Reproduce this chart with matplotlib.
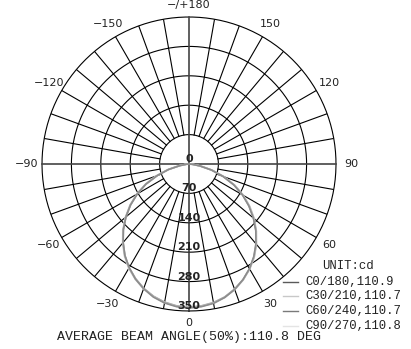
import numpy as np
import matplotlib
matplotlib.use("Agg")
import matplotlib.pyplot as plt
from matplotlib.lines import Line2D

# gamma angles (deg) and intensities (cd) for each C-plane half
gamma = [0, 5, 10, 15, 20, 25, 30, 35, 40, 45, 50, 55, 60, 65, 70, 75, 80, 85, 90]
c0 = [343, 341, 337, 329, 318, 304, 288, 269, 248, 225, 200, 174, 147, 118, 86, 55, 26, 8, 0]
c180 = [343, 341, 336, 328, 316, 302, 285, 266, 244, 221, 196, 170, 142, 113, 80, 50, 22, 6, 0]
c30 = [342, 340, 336, 329, 318, 305, 289, 271, 250, 227, 203, 177, 150, 121, 89, 58, 28, 9, 0]
c210 = [342, 340, 335, 327, 316, 302, 286, 267, 245, 222, 197, 171, 143, 114, 82, 52, 23, 7, 0]
c60 = [341, 339, 335, 328, 317, 304, 288, 270, 249, 226, 201, 175, 148, 119, 87, 56, 27, 8, 0]
c240 = [341, 339, 334, 326, 315, 301, 285, 266, 244, 221, 196, 170, 142, 113, 81, 51, 22, 6, 0]
c90 = [342, 340, 336, 328, 318, 304, 289, 270, 248, 226, 201, 175, 147, 118, 87, 56, 27, 8, 0]
c270 = [342, 340, 335, 327, 316, 303, 287, 268, 246, 223, 198, 172, 144, 115, 83, 53, 24, 7, 0]

planes = [("C0/180,110.9", c0, c180, "#8c8c8c", "#5a5a5a"),
          ("C30/210,110.7", c30, c210, "#c4c4c4", "#c8c8c8"),
          ("C60/240,110.7", c60, c240, "#a0a0a0", "#7a7a7a"),
          ("C90/270,110.8", c90, c270, "#dedede", "#e4e4e4")]

rings = [70, 140, 210, 280, 350]
ring_labels = ["0", "70", "140", "210", "280", "350"]
angle_ticks = [0, 30, 60, 90, 120, 150, 180, -150, -120, -90, -60, -30]
angle_labels = ["0", "30", "60", "90", "120", "150", "\u2212/+180",
                "\u2212150", "\u2212120", "\u221290", "\u221260", "\u221230"]

fig = plt.figure(figsize=(4.11, 3.49), dpi=100)
ax = fig.add_axes([0.1022, 0.1089, 0.7153, 0.8424], projection="polar")
ax.set_theta_zero_location("S")
ax.set_theta_direction(1)
ax.set_ylim(0, 350)
ax.grid(False)
ax.set_xticks([])
ax.set_yticks([])
ax.spines["polar"].set_visible(False)

# grid
t = np.linspace(0, 2 * np.pi, 400)
for r in rings:
    ax.plot(t, np.full_like(t, r), color="black", lw=0.8, clip_on=False)
for a in range(0, 360, 10):
    if a % 90 == 0:
        ax.plot([np.radians(a)] * 2, [0, 350], color="#444444", lw=1.2, clip_on=False)
    else:
        ax.plot([np.radians(a)] * 2, [70, 350], color="black", lw=0.8)

# curves
for name, right, left, col, lcol in planes[::-1]:
    th = [-g for g in gamma[::-1]] + gamma[1:]
    rr = left[::-1] + right[1:]
    ax.plot(np.radians(th), rr, color=col, lw=1.2, zorder=3)

# labels
for a, lab in zip(angle_ticks, angle_labels):
    rad = 378 if a in (0, 180) else 386
    ax.text(np.radians(a), rad, lab, ha="center", va="center",
            fontsize=8, color="#222222", clip_on=False)
for r, lab in zip([0] + rings, ring_labels):
    ax.text(0, r, lab, ha="center", va="bottom", fontsize=8,
            fontweight="bold", color="#222222", zorder=5)

# legend
mono = "Liberation Mono"
fig.text(322 / 411, 1 - 266 / 349, "UNIT:cd", family=mono, fontsize=8.8,
         va="center", ha="left", color="#222222")
ys = [282, 296, 311, 326]
for (name, right, left, col, lcol), y in zip(planes, ys):
    yf = 1 - y / 349
    fig.add_artist(Line2D([283 / 411, 298 / 411], [yf, yf], color=lcol, lw=1.0))
    fig.text(305 / 411, yf, name, family=mono, fontsize=8.8,
             va="center", ha="left", color="#222222")

fig.text(57 / 411, 1 - 337 / 349, "AVERAGE BEAM ANGLE(50%):110.8 DEG",
         family=mono, fontsize=9.5, va="center", ha="left", color="#222222")

fig.savefig("out.png", dpi=100)
